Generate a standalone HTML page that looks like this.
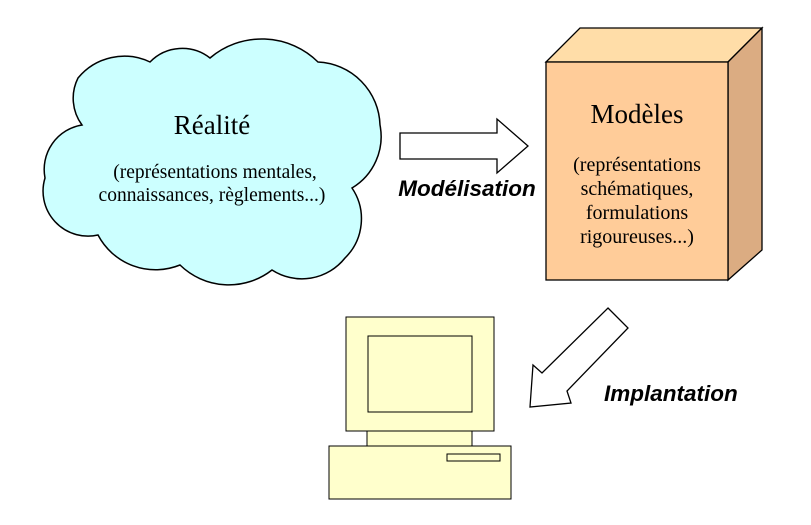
<!DOCTYPE html>
<html><head><style>body{margin:0;background:#fff}svg{display:block}</style></head><body>
<svg width="811" height="525" viewBox="0 0 811 525" xmlns="http://www.w3.org/2000/svg">
<path d="M82,125 A45,45 0 0 1 78,78 A60,60 0 0 1 150,62 A45,45 0 0 1 210,58 A80,80 0 0 1 318,62 A65,65 0 0 1 380,125 A60,60 0 0 1 352,188 A55,55 0 0 1 345,258 A55,55 0 0 1 272,270 A70,70 0 0 1 180,265 A65,65 0 0 1 98,235 A45,45 0 0 1 45,178 A45,45 0 0 1 82,125 Z" fill="#ccffff" stroke="#000" stroke-width="1.5"/>
<g font-family="Liberation Serif, serif" text-anchor="middle" fill="#000">
<text x="212" y="134" font-size="27">Réalité</text>
<text x="215" y="178" font-size="19.5">(représentations mentales,</text>
<text x="212" y="201" font-size="19.5">connaissances, règlements...)</text>
</g>
<polygon points="400,133 497,133 497,119 528,146 497,173 497,159 400,159" fill="#fff" stroke="#000" stroke-width="1.3"/>
<text x="467" y="196" font-family="Liberation Sans, sans-serif" font-weight="bold" font-style="italic" font-size="22.5" text-anchor="middle">Modélisation</text>
<polygon points="546,62 580,28 762,28 728,62" fill="#ffdda8" stroke="#000" stroke-width="1.3"/>
<polygon points="728,62 762,28 762,250 728,280" fill="#dbac82" stroke="#000" stroke-width="1.3"/>
<rect x="546" y="62" width="182" height="218" fill="#ffcc99" stroke="#000" stroke-width="1.3"/>
<g font-family="Liberation Serif, serif" text-anchor="middle" fill="#000">
<text x="637" y="123" font-size="27">Modèles</text>
<text x="637" y="171" font-size="20">(représentations</text>
<text x="637" y="195" font-size="20">schématiques,</text>
<text x="637" y="219" font-size="20">formulations</text>
<text x="637" y="243" font-size="20">rigoureuses...)</text>
</g>
<polygon points="608,308 628,328 567,391 571,403 530,407 533,365 542,373" fill="#fff" stroke="#000" stroke-width="1.3"/>
<text x="604" y="401" font-family="Liberation Sans, sans-serif" font-weight="bold" font-style="italic" font-size="22.5">Implantation</text>
<g fill="#ffffcc" stroke="#000" stroke-width="1">
<rect x="346" y="317" width="148" height="114"/>
<rect x="368" y="336" width="104" height="76"/>
<rect x="367" y="431" width="105" height="15"/>
<rect x="329" y="446" width="182" height="53"/>
<rect x="447" y="454" width="53" height="7"/>
</g>
</svg>
</body></html>
